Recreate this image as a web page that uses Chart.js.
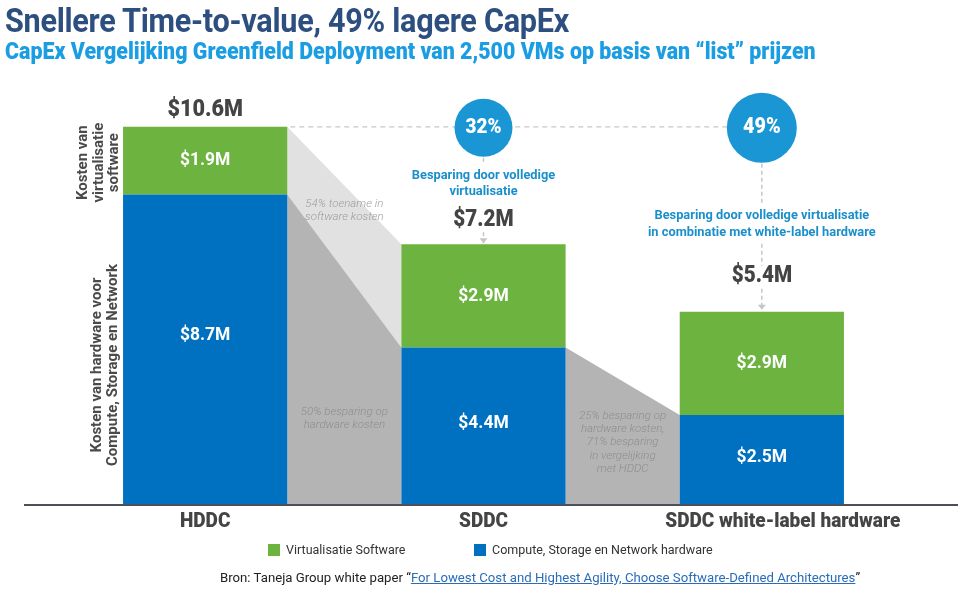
<!DOCTYPE html>
<html lang="nl">
<head>
<meta charset="utf-8">
<script src="https://cdn.jsdelivr.net/npm/chart.js@4.4.1/dist/chart.umd.min.js"></script>
<style>
	html, body { margin: 0; padding: 0; background: #fff; }
	body { width: 960px; height: 590px; position: relative; overflow: hidden; font-family: Roboto, "Noto Sans", sans-serif; }
	#chart { position: absolute; left: 0; top: 0; }
	.title { position: absolute; left: 5px; top: 0px; font-size: 34px; font-weight: 700; color: #2d4f7f; white-space: nowrap; transform: scaleX(0.9); transform-origin: left top; letter-spacing: -0.3px; }
	.subtitle { position: absolute; left: 5px; top: 38px; font-size: 23px; font-weight: 900; color: #1a9de2; white-space: nowrap; transform: scaleX(0.93); transform-origin: left top; }
	.legend { position: absolute; top: 542px; font-size: 12.5px; color: #333; white-space: nowrap; }
	.legend .sw { display: inline-block; width: 12px; height: 12px; vertical-align: -2px; margin-right: 6px; }
	.source { position: absolute; left: 220px; top: 570px; font-size: 13.2px; color: #222; white-space: nowrap; }
	.source a { color: #2a6cb8; text-decoration: underline; }
</style>
</head>
<body>
<canvas id="chart" width="960" height="590"></canvas>
<div class="title">Snellere Time-to-value, 49% lagere CapEx</div>
<div class="subtitle">CapEx Vergelijking Greenfield Deployment van 2,500 VMs op basis van “list” prijzen</div>
<div class="legend" style="left:268px"><span class="sw" style="background:#6cb33f"></span>Virtualisatie Software</div>
<div class="legend" style="left:474px"><span class="sw" style="background:#0070c0"></span>Compute, Storage en Network hardware</div>
<div class="source">Bron: Taneja Group white paper “<a>For Lowest Cost and Highest Agility, Choose Software-Defined Architectures</a>”</div>
<script>
// ─── Data ──────────────────────────────────────
const categories = ["HDDC", "SDDC", "SDDC white-label hardware"];
const hardware = [8.7, 4.4, 2.5]; // Compute, Storage en Network hardware ($M)
const software = [1.9, 2.9, 2.9]; // Virtualisatie Software ($M)
const totalLabels = ["$10.6M", "$7.2M", "$5.4M"];
const savings = ["32%", "49%"];
const savingsText = [
	["Besparing door volledige", "virtualisatie"],
	["Besparing door volledige virtualisatie", "in combinatie met white-label hardware"],
];

const GREEN = "#6cb33f";
const BLUE = "#0070c0";
const CIRCLE = "#1a96d4";
const NOTE = "#1a8fcb";
const DARK = "#444";
const FONT = "Roboto, 'Noto Sans', sans-serif";

const fmtM = (v) => "$" + v.toFixed(1) + "M";

// ─── Helpers ───────────────────────────────────
function txt(ctx, s, x, y, font, color, sx = 1, align = "center") {
	ctx.save();
	ctx.font = font;
	ctx.fillStyle = color;
	ctx.textAlign = align;
	ctx.textBaseline = "middle";
	ctx.translate(x, y);
	ctx.scale(sx, 1);
	ctx.fillText(s, 0, 0);
	ctx.restore();
}

function dashV(ctx, x, y1, y2, arrow) {
	ctx.save();
	ctx.strokeStyle = "#c6c6c6";
	ctx.lineWidth = 1.5;
	ctx.setLineDash([4, 3]);
	ctx.beginPath();
	ctx.moveTo(x, y1);
	ctx.lineTo(x, y2);
	ctx.stroke();
	if (arrow) {
		ctx.setLineDash([]);
		ctx.fillStyle = "#c6c6c6";
		ctx.beginPath();
		ctx.moveTo(x - 4, y2 - 5);
		ctx.lineTo(x + 4, y2 - 5);
		ctx.lineTo(x, y2);
		ctx.closePath();
		ctx.fill();
	}
	ctx.restore();
}

function poly(ctx, pts, color) {
	ctx.fillStyle = color;
	ctx.beginPath();
	pts.forEach(([x, y], i) => (i ? ctx.lineTo(x, y) : ctx.moveTo(x, y)));
	ctx.closePath();
	ctx.fill();
}

// ─── Connectors between bars ───────────────────
const connectors = {
	id: "connectors",
	beforeDatasetsDraw(chart) {
		const ctx = chart.ctx;
		const hw = chart.getDatasetMeta(0).data;
		const sw = chart.getDatasetMeta(1).data;
		const base = chart.scales.y.getPixelForValue(0);
		ctx.save();
		for (let i = 0; i < categories.length - 1; i++) {
			const r0 = hw[i].x + hw[i].width / 2;
			const l1 = hw[i + 1].x - hw[i + 1].width / 2;
			if (i === 0) {
				poly(ctx, [[r0, sw[i].y], [l1, sw[i + 1].y], [l1, hw[i + 1].y], [r0, hw[i].y]], "#e1e1e1");
			}
			poly(ctx, [[r0, hw[i].y], [l1, hw[i + 1].y], [l1, base], [r0, base]], "#b4b4b4");
		}
		// italic notes
		const it = `italic 300 11.5px ${FONT}`;
		const c1 = (hw[0].x + hw[0].width / 2 + hw[1].x - hw[1].width / 2) / 2;
		const c2 = (hw[1].x + hw[1].width / 2 + hw[2].x - hw[2].width / 2) / 2;
		txt(ctx, "54% toename in", c1, hw[0].y + 10, it, "#9c9c9c");
		txt(ctx, "software kosten", c1, hw[0].y + 23, it, "#9c9c9c");
		const mid1 = (hw[1].y + base) / 2;
		txt(ctx, "50% besparing op", c1, mid1 - 14, it, "#8e8e8e");
		txt(ctx, "hardware kosten", c1, mid1 - 1, it, "#8e8e8e");
		["25% besparing op", "hardware kosten,", "71% besparing", "in vergelijking", "met HDDC"].forEach((s, k) =>
			txt(ctx, s, c2, hw[2].y + 1 + k * 13.2, it, "#8e8e8e")
		);
		ctx.restore();
	},
	afterDatasetsDraw(chart) {
		const ctx = chart.ctx;
		const hw = chart.getDatasetMeta(0).data;
		const sw = chart.getDatasetMeta(1).data;
		const base = chart.scales.y.getPixelForValue(0);

		// baseline
		ctx.save();
		ctx.strokeStyle = "#4b5058";
		ctx.lineWidth = 2;
		ctx.beginPath();
		ctx.moveTo(24, base + 1);
		ctx.lineTo(958, base + 1);
		ctx.stroke();

		// values inside bars
		const vf = `bold 19px ${FONT}`;
		hw.forEach((b, i) => {
			txt(ctx, fmtM(hardware[i]), b.x, (b.y + b.base) / 2 - (i === 0 ? 14 : 2), vf, "#fff", 0.92);
			txt(ctx, fmtM(software[i]), b.x, (sw[i].y + sw[i].base) / 2, vf, "#fff", 0.92);
		});

		// category labels
		categories.forEach((c, i) => {
			txt(ctx, c, hw[i].x + (i === 2 ? 21 : 0), base + 18, `900 20px ${FONT}`, DARK, 0.95);
		});

		// top dashed line + circles
		const topY = sw[0].y;
		ctx.strokeStyle = "#c8c8c8";
		ctx.lineWidth = 1.3;
		ctx.setLineDash([5, 4]);
		ctx.beginPath();
		ctx.moveTo(hw[0].x + hw[0].width / 2 + 3, topY);
		ctx.lineTo(hw[2].x, topY);
		ctx.stroke();
		ctx.setLineDash([]);

		txt(ctx, totalLabels[0], hw[0].x, topY - 17, `900 24px ${FONT}`, DARK, 0.9);

		// savings annotations
		const x1 = hw[1].x, x2 = hw[2].x;
		const r1 = 29, r2 = 35;
		ctx.fillStyle = CIRCLE;
		ctx.beginPath(); ctx.arc(x1, topY + 1, r1, 0, Math.PI * 2); ctx.fill();
		ctx.beginPath(); ctx.arc(x2, topY + 1, r2, 0, Math.PI * 2); ctx.fill();
		txt(ctx, savings[0], x1, topY + 1, `900 21px ${FONT}`, "#fff", 0.9);
		txt(ctx, savings[1], x2, topY + 1, `900 22px ${FONT}`, "#fff", 0.9);

		dashV(ctx, x1, topY + r1 + 2, topY + r1 + 9);
		txt(ctx, savingsText[0][0], x1, topY + 49, `bold 13.5px ${FONT}`, NOTE, 0.95);
		txt(ctx, savingsText[0][1], x1, topY + 65, `bold 13.5px ${FONT}`, NOTE, 0.95);
		txt(ctx, totalLabels[1], x1, sw[1].y - 24, `900 23px ${FONT}`, DARK, 0.9);
		dashV(ctx, x1, sw[1].y - 12, sw[1].y - 1, true);

		dashV(ctx, x2, topY + r2 + 2, topY + 78);
		txt(ctx, savingsText[1][0], x2, topY + 89, `bold 13.5px ${FONT}`, NOTE, 0.95);
		txt(ctx, savingsText[1][1], x2, topY + 106, `bold 13.5px ${FONT}`, NOTE, 0.95);
		dashV(ctx, x2, topY + 117, topY + 139);
		txt(ctx, totalLabels[2], x2, sw[2].y - 36, `900 23px ${FONT}`, DARK, 0.9);
		dashV(ctx, x2, sw[2].y - 23, sw[2].y - 2, true);

		// rotated side labels
		const sf = `bold 15px ${FONT}`;
		const side = (lines, cx, cy) => {
			ctx.save();
			ctx.translate(cx, cy);
			ctx.rotate(-Math.PI / 2);
			lines.forEach((s, k) => txt(ctx, s, 0, (k - (lines.length - 1) / 2) * 15.5, sf, "#4a4a4a"));
			ctx.restore();
		};
		side(["Kosten van", "virtualisatie", "software"], 99, (sw[0].y + sw[0].base) / 2 + 2);
		side(["Kosten van hardware voor", "Compute, Storage en Network"], 105, 365);
		ctx.restore();
	},
};

// ─── Chart ─────────────────────────────────────
new Chart(document.getElementById("chart"), {
	type: "bar",
	data: {
		labels: categories,
		datasets: [
			{ label: "Compute, Storage en Network hardware", data: hardware, backgroundColor: BLUE },
			{ label: "Virtualisatie Software", data: software, backgroundColor: GREEN },
		],
	},
	options: {
		responsive: false,
		animation: false,
		devicePixelRatio: 1,
		layout: { padding: { left: 66, right: 59, top: 77, bottom: 86 } },
		datasets: { bar: { barPercentage: 0.59, categoryPercentage: 1, borderWidth: 0 } },
		plugins: { legend: { display: false }, tooltip: { enabled: false } },
		scales: {
			x: { stacked: true, display: false },
			y: { stacked: true, display: false, min: 0, max: 12 },
		},
	},
	plugins: [connectors],
});
</script>
</body>
</html>
